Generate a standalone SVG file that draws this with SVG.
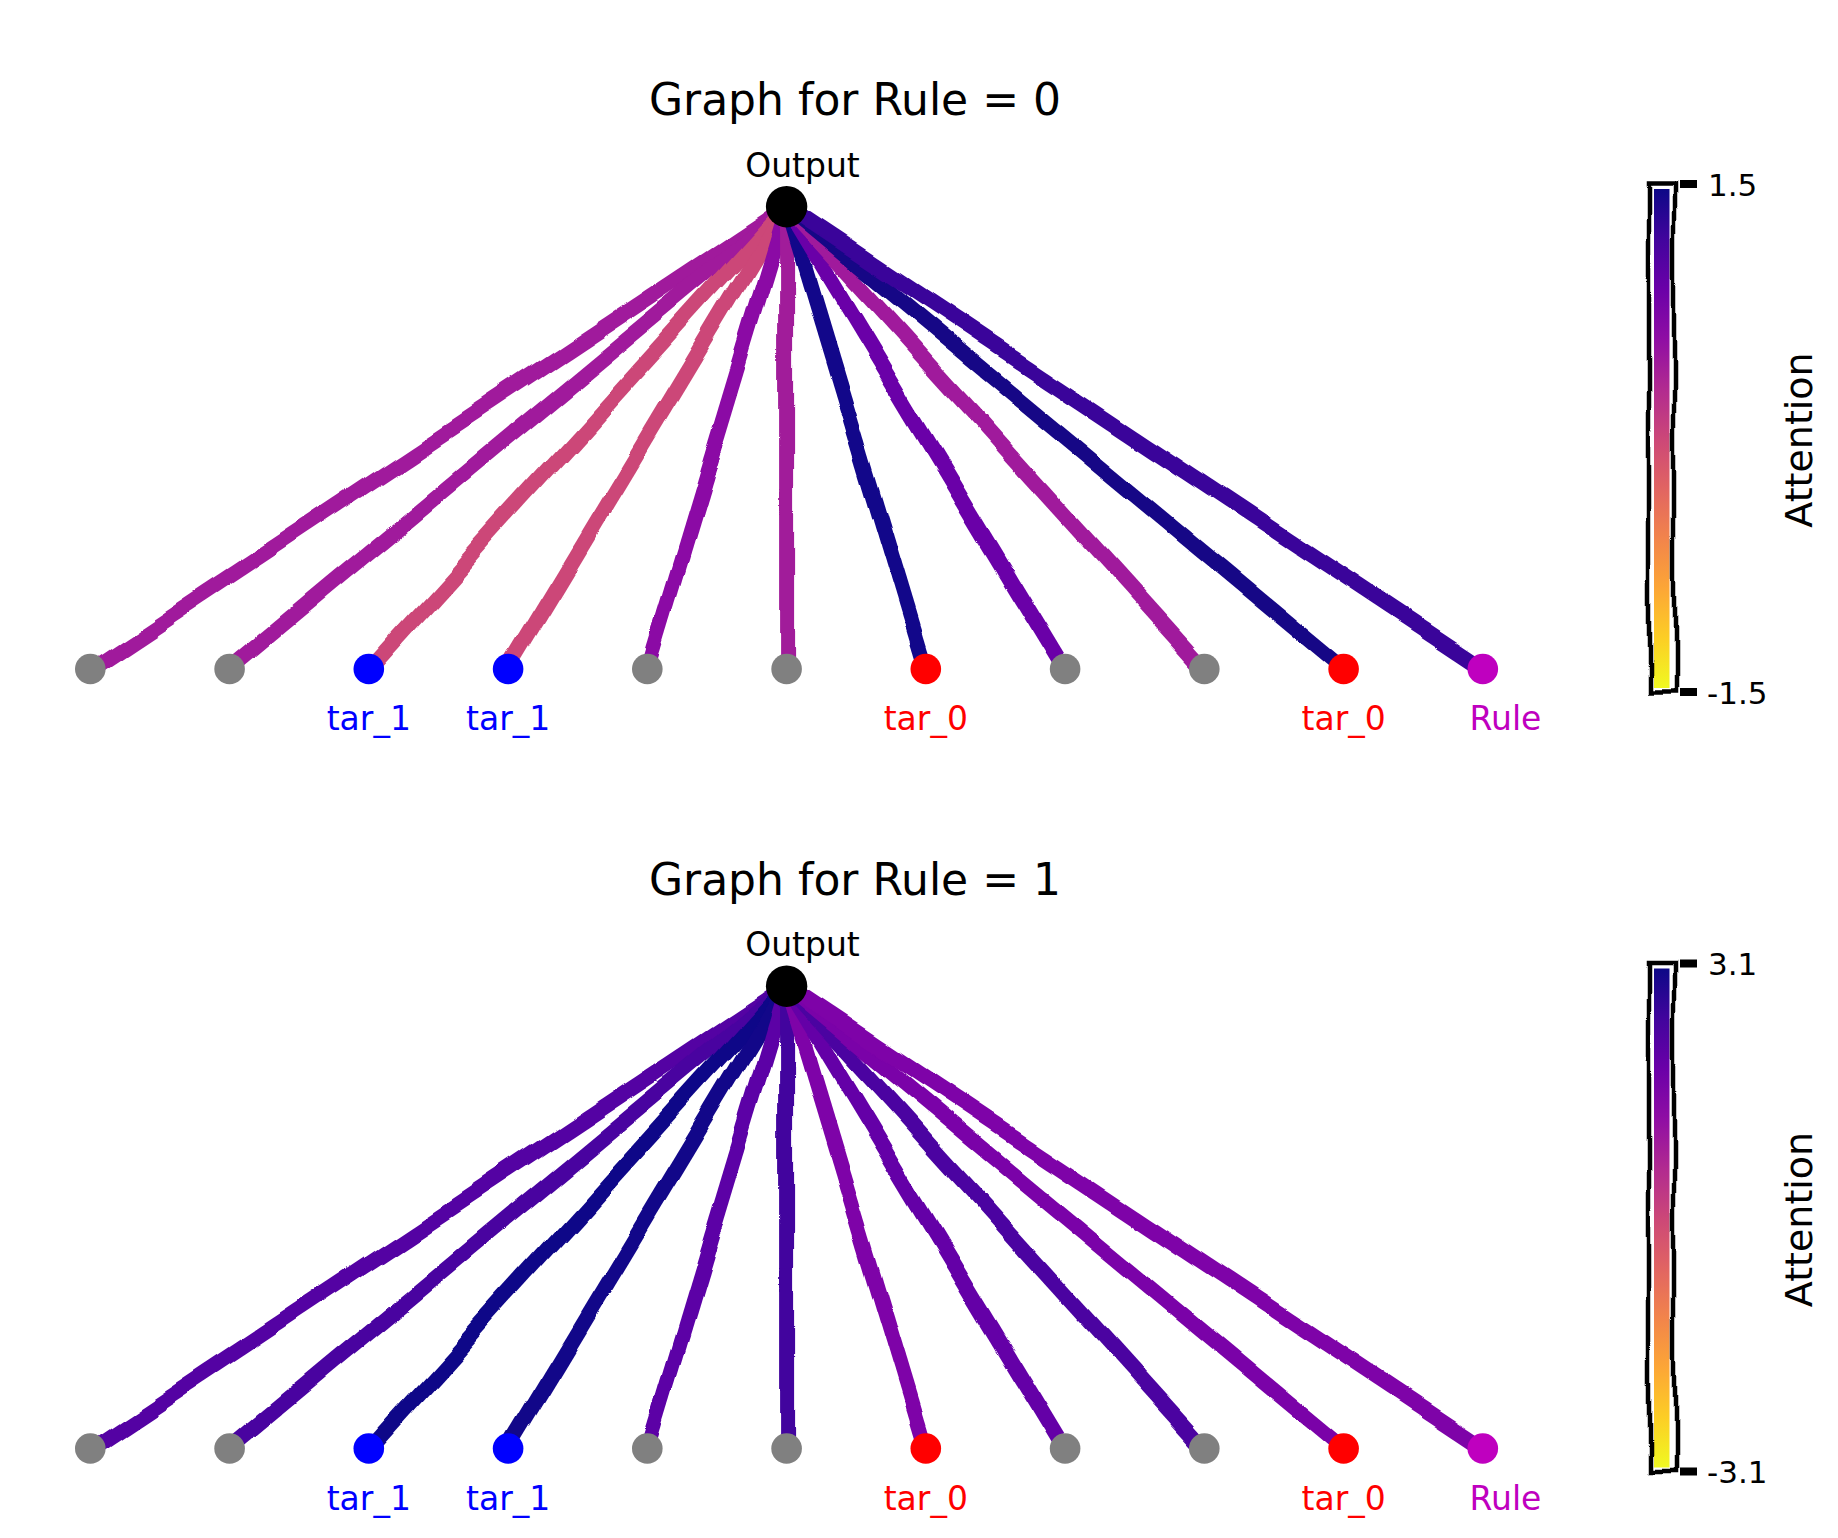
<svg xmlns="http://www.w3.org/2000/svg" width="1838" height="1538" viewBox="0 0 1838 1538">
<style>
text{font-family:"DejaVu Sans","Liberation Sans",sans-serif;}
.title{font-size:44px;fill:#000;text-anchor:middle;}
.lbl{font-size:33px;text-anchor:middle;}
.tick{font-size:31px;fill:#000;}
.cbl{font-size:38px;fill:#000;text-anchor:middle;}
.e{fill:none;stroke-width:15;}
.g{fill:#808080;}
</style>
<defs>
<filter id="xkcd" filterUnits="userSpaceOnUse" x="-100" y="-900" width="2100" height="2600" color-interpolation-filters="sRGB">
<feTurbulence type="fractalNoise" baseFrequency="0.011" numOctaves="1" seed="7" result="n"/>
<feDisplacementMap in="SourceGraphic" in2="n" scale="16" xChannelSelector="R" yChannelSelector="G"/>
</filter>
<linearGradient id="plasma" x1="0" y1="0" x2="0" y2="1">
<stop offset="0" stop-color="#0d0887"/>
<stop offset="0.1" stop-color="#41049d"/>
<stop offset="0.2" stop-color="#6a00a8"/>
<stop offset="0.3" stop-color="#8f0da4"/>
<stop offset="0.4" stop-color="#b12a90"/>
<stop offset="0.5" stop-color="#cc4778"/>
<stop offset="0.6" stop-color="#e16462"/>
<stop offset="0.7" stop-color="#f2844b"/>
<stop offset="0.8" stop-color="#fca636"/>
<stop offset="0.9" stop-color="#fcce25"/>
<stop offset="1" stop-color="#f0f921"/>
</linearGradient>
</defs>
<rect width="1838" height="1538" fill="#fff"/>

<!-- ===== Graph Rule = 0 ===== -->
<g id="graph0">
<text class="title" x="855" y="115">Graph for Rule = 0</text>
<g id="edges0" filter="url(#xkcd)">
<path class="e" stroke="#a01a9c" d="M786.6 206.7L90.3 669"/>
<path class="e" stroke="#a01a9c" d="M786.6 206.7L229.6 669"/>
<path class="e" stroke="#cc4778" d="M786.6 206.7L368.8 669"/>
<path class="e" stroke="#cc4778" d="M786.6 206.7L508.1 669"/>
<path class="e" stroke="#8b0aa5" d="M786.6 206.7L647.3 669"/>
<path class="e" stroke="#a11c9a" d="M786.6 206.7L786.6 669"/>
<path class="e" stroke="#12078a" d="M786.6 206.7L925.8 669"/>
<path class="e" stroke="#6a00a8" d="M786.6 206.7L1065.1 669"/>
<path class="e" stroke="#a01a9c" d="M786.6 206.7L1204.3 669"/>
<path class="e" stroke="#160786" d="M786.6 206.7L1343.6 669"/>
<path class="e" stroke="#3a049a" d="M786.6 206.7L1482.8 669"/>
</g>
<g id="out0"><circle cx="786.6" cy="206.7" r="20.7" fill="#000"/><text class="lbl" x="802.5" y="176.7" fill="#000">Output</text></g>
<g id="n0_0"><circle class="g" cx="90.3" cy="669" r="15.3"/></g>
<g id="n0_1"><circle class="g" cx="229.6" cy="669" r="15.3"/></g>
<g id="n0_2"><circle cx="368.8" cy="669" r="15.3" fill="#0000ff"/><text class="lbl" x="368.8" y="730" fill="#0000ff">tar_1</text></g>
<g id="n0_3"><circle cx="508.1" cy="669" r="15.3" fill="#0000ff"/><text class="lbl" x="508.1" y="730" fill="#0000ff">tar_1</text></g>
<g id="n0_4"><circle class="g" cx="647.3" cy="669" r="15.3"/></g>
<g id="n0_5"><circle class="g" cx="786.6" cy="669" r="15.3"/></g>
<g id="n0_6"><circle cx="925.8" cy="669" r="15.3" fill="#ff0000"/><text class="lbl" x="925.8" y="730" fill="#ff0000">tar_0</text></g>
<g id="n0_7"><circle class="g" cx="1065.1" cy="669" r="15.3"/></g>
<g id="n0_8"><circle class="g" cx="1204.3" cy="669" r="15.3"/></g>
<g id="n0_9"><circle cx="1343.6" cy="669" r="15.3" fill="#ff0000"/><text class="lbl" x="1343.6" y="730" fill="#ff0000">tar_0</text></g>
<g id="n0_10"><circle cx="1482.8" cy="669" r="15.3" fill="#bf00bf"/><text class="lbl" x="1505.5" y="730" fill="#bf00bf">Rule</text></g>
<g id="cbar0">
<rect x="1654" y="189" width="15.5" height="499" fill="url(#plasma)"/>
<rect x="1649" y="183.5" width="26" height="509" fill="none" stroke="#000" stroke-width="4.5" filter="url(#xkcd)"/>
<rect x="1680" y="180" width="17" height="8" fill="#000"/>
<rect x="1680" y="688" width="17" height="8" fill="#000"/>
<text class="tick" x="1708" y="195.5">1.5</text>
<text class="tick" x="1707" y="703.5">-1.5</text>
<text class="cbl" transform="translate(1812,440) rotate(-90)">Attention</text>
</g>
</g>

<!-- ===== Graph Rule = 1 ===== -->
<g id="graph1" transform="translate(0,779.5)">
<text class="title" x="855" y="115">Graph for Rule = 1</text>
<g id="edges1" filter="url(#xkcd)">
<path class="e" stroke="#5402a3" d="M786.6 206.7L90.3 669"/>
<path class="e" stroke="#4903a0" d="M786.6 206.7L229.6 669"/>
<path class="e" stroke="#0e0788" d="M786.6 206.7L368.8 669"/>
<path class="e" stroke="#120789" d="M786.6 206.7L508.1 669"/>
<path class="e" stroke="#5c01a6" d="M786.6 206.7L647.3 669"/>
<path class="e" stroke="#42049e" d="M786.6 206.7L786.6 669"/>
<path class="e" stroke="#7e03a8" d="M786.6 206.7L925.8 669"/>
<path class="e" stroke="#6400a7" d="M786.6 206.7L1065.1 669"/>
<path class="e" stroke="#4b03a1" d="M786.6 206.7L1204.3 669"/>
<path class="e" stroke="#7a02a8" d="M786.6 206.7L1343.6 669"/>
<path class="e" stroke="#7e03a8" d="M786.6 206.7L1482.8 669"/>
</g>
<g id="out1"><circle cx="786.6" cy="206.7" r="20.7" fill="#000"/><text class="lbl" x="802.5" y="176.7" fill="#000">Output</text></g>
<g id="n1_0"><circle class="g" cx="90.3" cy="669" r="15.3"/></g>
<g id="n1_1"><circle class="g" cx="229.6" cy="669" r="15.3"/></g>
<g id="n1_2"><circle cx="368.8" cy="669" r="15.3" fill="#0000ff"/><text class="lbl" x="368.8" y="730" fill="#0000ff">tar_1</text></g>
<g id="n1_3"><circle cx="508.1" cy="669" r="15.3" fill="#0000ff"/><text class="lbl" x="508.1" y="730" fill="#0000ff">tar_1</text></g>
<g id="n1_4"><circle class="g" cx="647.3" cy="669" r="15.3"/></g>
<g id="n1_5"><circle class="g" cx="786.6" cy="669" r="15.3"/></g>
<g id="n1_6"><circle cx="925.8" cy="669" r="15.3" fill="#ff0000"/><text class="lbl" x="925.8" y="730" fill="#ff0000">tar_0</text></g>
<g id="n1_7"><circle class="g" cx="1065.1" cy="669" r="15.3"/></g>
<g id="n1_8"><circle class="g" cx="1204.3" cy="669" r="15.3"/></g>
<g id="n1_9"><circle cx="1343.6" cy="669" r="15.3" fill="#ff0000"/><text class="lbl" x="1343.6" y="730" fill="#ff0000">tar_0</text></g>
<g id="n1_10"><circle cx="1482.8" cy="669" r="15.3" fill="#bf00bf"/><text class="lbl" x="1505.5" y="730" fill="#bf00bf">Rule</text></g>
<g id="cbar1">
<rect x="1654" y="189" width="15.5" height="499" fill="url(#plasma)"/>
<rect x="1649" y="183.5" width="26" height="509" fill="none" stroke="#000" stroke-width="4.5" filter="url(#xkcd)"/>
<rect x="1680" y="180" width="17" height="8" fill="#000"/>
<rect x="1680" y="688" width="17" height="8" fill="#000"/>
<text class="tick" x="1708" y="195.5">3.1</text>
<text class="tick" x="1707" y="703.5">-3.1</text>
<text class="cbl" transform="translate(1812,440) rotate(-90)">Attention</text>
</g>
</g>
</svg>
